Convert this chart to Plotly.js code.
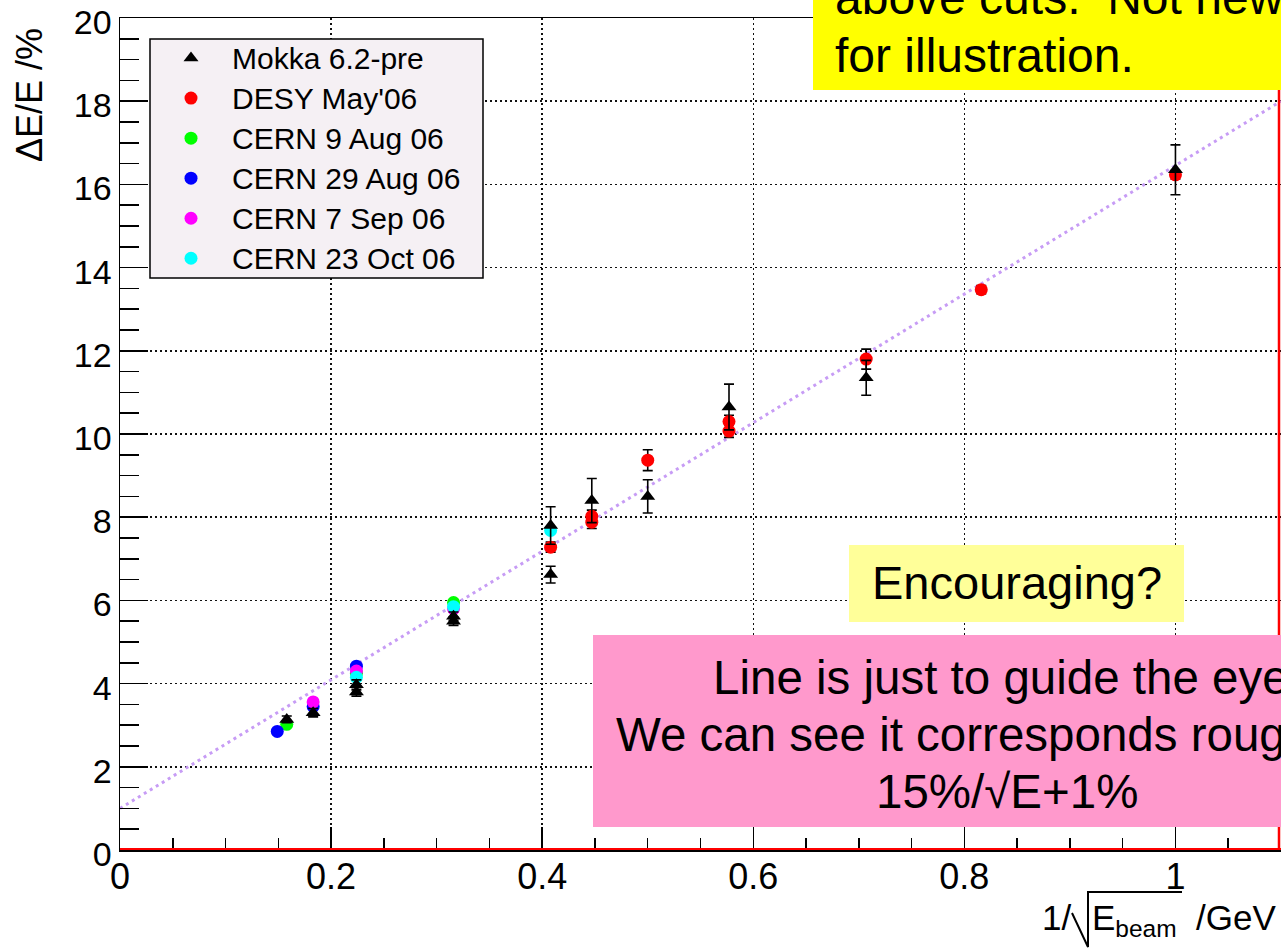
<!DOCTYPE html>
<html>
<head>
<meta charset="utf-8">
<script src="https://cdn.plot.ly/plotly-3.0.1.min.js"></script>
<style>html,body{margin:0;padding:0;background:#fff;}</style>
</head>
<body>
<div id="chart" style="width:1281px;height:949px;"></div>
<script>
// Energy resolution vs 1/sqrt(E_beam)

// Mokka 6.2-pre simulation
const mokkaX   = [1.0, 0.707, 0.577, 0.5, 0.447, 0.408, 0.408, 0.316, 0.316, 0.224, 0.224, 0.183, 0.158];
const mokkaY   = [16.35, 11.35, 10.65, 8.5, 8.4, 7.8, 6.62, 5.62, 5.5, 3.97, 3.8, 3.3, 3.14];
const mokkaErr = [0.6, 0.42, 0.55, 0.4, 0.53, 0.45, 0.2, 0.1, 0.1, 0.12, 0.1, 0.1, 0.08];

// DESY May'06
const desyX   = [1.0, 0.816, 0.707, 0.577, 0.577, 0.5, 0.447, 0.447, 0.408];
const desyY   = [16.23, 13.47, 11.8, 10.3, 10.07, 9.37, 8.02, 7.88, 7.28];
const desyErr = [0.1, 0.1, 0.24, 0.15, 0.15, 0.25, 0.15, 0.15, 0.12];

// CERN runs
const cern9AugX  = [0.316, 0.224, 0.158];
const cern9AugY  = [5.95, 4.25, 3.02];
const cern29AugX = [0.224, 0.183, 0.149];
const cern29AugY = [4.42, 3.45, 2.85];
const cern7SepX  = [0.316, 0.224, 0.183];
const cern7SepY  = [5.8, 4.3, 3.56];
const cern23OctX = [0.408, 0.316, 0.224];
const cern23OctY = [7.68, 5.85, 4.15];

// guide line
const guideX = [0, 1.1];
const guideY = [1.0, 18.0];

const legendNames = ["Mokka 6.2-pre", "DESY May'06", "CERN 9 Aug 06", "CERN 29 Aug 06", "CERN 7 Sep 06", "CERN 23 Oct 06"];

const FONT = '"Liberation Sans", Arial, Helvetica, sans-serif';
const W = 1281, H = 949;
const M = {l: 120, r: 0, t: 18, b: 99};
const PW = W - M.l - M.r, PH = H - M.t - M.b;
const px = p => (p - M.l) / PW;
const py = p => 1 - (p - M.t) / PH;
const lbl = s => '<span style="font-size:30px">' + s + '</span>';

const errStyle = arr => ({type: 'data', array: arr, visible: true, color: 'black', thickness: 1.6, width: 5});

const traces = [
  {x: guideX, y: guideY, mode: 'lines', showlegend: false, hoverinfo: 'skip',
   line: {color: '#c79cf5', width: 3, dash: '3px,4px'}},
  {x: desyX, y: desyY, mode: 'markers', name: lbl(legendNames[1]), legendrank: 2,
   marker: {symbol: 'circle', size: 13, color: '#ff0000'}, error_y: errStyle(desyErr)},
  {x: cern9AugX, y: cern9AugY, mode: 'markers', name: lbl(legendNames[2]), legendrank: 3,
   marker: {symbol: 'circle', size: 13, color: '#00ff00'}},
  {x: cern29AugX, y: cern29AugY, mode: 'markers', name: lbl(legendNames[3]), legendrank: 4,
   marker: {symbol: 'circle', size: 13, color: '#0000ff'}},
  {x: cern7SepX, y: cern7SepY, mode: 'markers', name: lbl(legendNames[4]), legendrank: 5,
   marker: {symbol: 'circle', size: 13, color: '#ff00ff'}},
  {x: cern23OctX, y: cern23OctY, mode: 'markers', name: lbl(legendNames[5]), legendrank: 6,
   marker: {symbol: 'circle', size: 13, color: '#00ffff'}},
  {x: mokkaX, y: mokkaY, mode: 'markers', name: lbl(legendNames[0]), legendrank: 1,
   marker: {symbol: 'triangle-up', size: 13, color: '#000000'}, error_y: errStyle(mokkaErr)}
];

const gridDash = '2px,3px';

const layout = {
  width: W, height: H,
  margin: M,
  paper_bgcolor: '#ffffff', plot_bgcolor: '#ffffff',
  font: {family: FONT, color: '#000'},
  showlegend: true,
  legend: {
    x: px(150), y: py(33), xanchor: 'left', yanchor: 'top',
    bgcolor: 'rgba(0,0,0,0)', borderwidth: 0,
    font: {family: FONT, size: 28.5, color: '#000'},
    itemwidth: 72
  },
  xaxis: {
    range: [0, 1.1], tick0: 0, dtick: 0.2,
    ticks: 'inside', ticklen: 23, tickwidth: 1.5, tickcolor: '#000',
    showline: true, linecolor: '#000', linewidth: 1.5, mirror: true,
    showgrid: true, gridcolor: '#111', gridwidth: 1.5, griddash: gridDash,
    zeroline: false, automargin: false, ticklabeloverflow: 'allow',
    ticklabelstandoff: -6,
    tickfont: {family: FONT, size: 36, color: '#000'},
    minor: {dtick: 0.05, ticks: 'inside', ticklen: 12, tickwidth: 1.5, tickcolor: '#000', showgrid: false}
  },
  yaxis: {
    range: [0, 20], tick0: 0, dtick: 2,
    ticks: 'inside', ticklen: 28, tickwidth: 1.5, tickcolor: '#000',
    showline: true, linecolor: '#000', linewidth: 1.5, mirror: true,
    showgrid: true, gridcolor: '#111', gridwidth: 1.5, griddash: gridDash,
    zeroline: false, automargin: false, ticklabeloverflow: 'allow',
    ticklabelshift: 4,
    tickfont: {family: FONT, size: 34, color: '#000'},
    minor: {dtick: 0.5, ticks: 'inside', ticklen: 19, tickwidth: 1.5, tickcolor: '#000', showgrid: false}
  },
  shapes: [
    // red frame lines
    {type: 'line', xref: 'paper', yref: 'paper', x0: 0, x1: 1, y0: py(849), y1: py(849),
     line: {color: '#ff0000', width: 2}, layer: 'above'},
    {type: 'line', xref: 'paper', yref: 'paper', x0: px(1279), x1: px(1279), y0: py(18), y1: py(850),
     line: {color: '#ff0000', width: 2.5}, layer: 'above'},
    // legend frame
    {type: 'rect', xref: 'paper', yref: 'paper', x0: px(150), x1: px(483), y0: py(278), y1: py(39),
     fillcolor: '#f5f0f4', line: {color: '#000', width: 1.5}, layer: 'above'},
    // note boxes
    {type: 'rect', xref: 'paper', yref: 'paper', x0: px(813), x1: px(1300), y0: py(90), y1: py(-10),
     fillcolor: '#ffff00', line: {width: 0}, layer: 'above'},
    {type: 'rect', xref: 'paper', yref: 'paper', x0: px(849), x1: px(1184), y0: py(622), y1: py(545),
     fillcolor: '#ffff99', line: {width: 0}, layer: 'above'},
    {type: 'rect', xref: 'paper', yref: 'paper', x0: px(593), x1: px(1300), y0: py(827), y1: py(635),
     fillcolor: '#ff99cc', line: {width: 0}, layer: 'above'},
    // radical sign of the x-axis title
    {type: 'path', xref: 'paper', yref: 'paper', layer: 'above',
     path: 'M' + px(1072) + ',' + py(913) + ' L' + px(1088) + ',' + py(947) +
           ' L' + px(1088) + ',' + py(892) + ' L' + px(1182) + ',' + py(892),
     line: {color: '#000', width: 2}}
  ],
  annotations: [
    {xref: 'paper', yref: 'paper', x: px(30), y: py(95), text: '\u0394E/E /%', textangle: -90,
     showarrow: false, xanchor: 'center', yanchor: 'middle', font: {family: FONT, size: 36, color: '#000'}},
    {xref: 'paper', yref: 'paper', x: px(1073), y: py(917), text: '1/',
     showarrow: false, xanchor: 'right', yanchor: 'middle', font: {family: FONT, size: 35, color: '#000'}},
    {xref: 'paper', yref: 'paper', x: px(1090), y: py(920), text: 'E<sub>beam</sub>\u00a0 /GeV',
     showarrow: false, xanchor: 'left', yanchor: 'middle', font: {family: FONT, size: 35, color: '#000'}},
    {xref: 'paper', yref: 'paper', x: px(833), y: py(-3), text: 'above cuts.\u00a0 Not new',
     showarrow: false, xanchor: 'left', yanchor: 'middle', font: {family: FONT, size: 48, color: '#000'}},
    {xref: 'paper', yref: 'paper', x: px(833), y: py(55), text: 'for illustration.',
     showarrow: false, xanchor: 'left', yanchor: 'middle', font: {family: FONT, size: 48, color: '#000'}},
    {xref: 'paper', yref: 'paper', x: px(1017), y: py(582), text: 'Encouraging?',
     showarrow: false, xanchor: 'center', yanchor: 'middle', font: {family: FONT, size: 47, color: '#000'}},
    {xref: 'paper', yref: 'paper', x: px(1007), y: py(677), text: 'Line is just to guide the eye.',
     showarrow: false, xanchor: 'center', yanchor: 'middle', font: {family: FONT, size: 47.5, color: '#000'}},
    {xref: 'paper', yref: 'paper', x: px(1007), y: py(734), text: 'We can see it corresponds roughly to',
     showarrow: false, xanchor: 'center', yanchor: 'middle', font: {family: FONT, size: 47.5, color: '#000'}},
    {xref: 'paper', yref: 'paper', x: px(1007), y: py(791), text: '15%/\u221AE+1%',
     showarrow: false, xanchor: 'center', yanchor: 'middle', font: {family: FONT, size: 47.5, color: '#000'}}
  ]
};

Plotly.newPlot('chart', traces, layout, {staticPlot: true, displayModeBar: false});
</script>
</body>
</html>
